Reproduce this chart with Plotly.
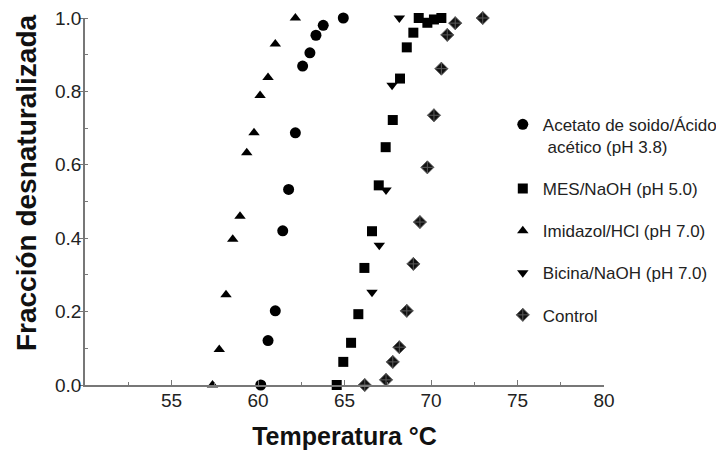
import plotly.graph_objects as go

# ---- data ----
acetato_x = [60.16, 60.58, 61.0, 61.43, 61.77, 62.16, 62.58, 63.0, 63.35, 63.77, 64.93]
acetato_y = [0.0, 0.121, 0.202, 0.42, 0.533, 0.687, 0.869, 0.905, 0.953, 0.98, 1.0]

mes_x = [64.55, 64.93, 65.38, 65.8, 66.15, 66.59, 66.98, 67.38, 67.79, 68.21, 68.6, 68.98, 69.29, 69.79, 70.17, 70.6]
mes_y = [0.0, 0.063, 0.115, 0.193, 0.319, 0.419, 0.544, 0.648, 0.722, 0.835, 0.92, 0.96, 1.0, 0.987, 0.996, 1.0]

imid_x = [57.37, 57.76, 58.15, 58.54, 58.96, 59.35, 59.77, 60.12, 60.58, 61.0, 62.16]
imid_y = [0.0, 0.097, 0.246, 0.397, 0.46, 0.633, 0.687, 0.789, 0.838, 0.929, 1.0]

bic_x = [66.59, 67.01, 67.4, 67.75, 68.17]
bic_y = [0.253, 0.381, 0.531, 0.817, 1.0]

ctrl_x = [66.17, 67.4, 67.79, 68.17, 68.6, 68.98, 69.36, 69.79, 70.17, 70.6, 70.94, 71.4, 72.99]
ctrl_y = [0.0, 0.014, 0.063, 0.103, 0.202, 0.33, 0.444, 0.593, 0.735, 0.862, 0.954, 0.986, 1.0]

names = [
    "Acetato de soido/Ácido<br> acético (pH 3.8)",
    "MES/NaOH (pH 5.0)",
    "Imidazol/HCl (pH 7.0)",
    "Bicina/NaOH (pH 7.0)",
    "Control",
]
x_title = "Temperatura °C"
y_title = "Fracción desnaturalizada"
x_tickvals = [55, 60, 65, 70, 75, 80]
y_tickvals = [0.0, 0.2, 0.4, 0.6, 0.8, 1.0]

series = [
    (acetato_x, acetato_y, "circle", 11),
    (mes_x, mes_y, "square", 10),
    (imid_x, imid_y, "triangle-up", 10),
    (bic_x, bic_y, "triangle-down", 10),
    (ctrl_x, ctrl_y, "diamond-cross", 10),
]

fig = go.Figure()
for i, ((xs, ys, sym, sz), nm) in enumerate(zip(series, names)):
    if sym == "diamond-cross":
        marker = dict(symbol=sym, size=sz, color="#111111", line=dict(color="#5a5a5a", width=1))
    else:
        marker = dict(symbol=sym, size=sz, color="#000000", line=dict(width=0))
    fig.add_trace(go.Scatter(
        x=xs, y=ys, mode="markers", name=nm, marker=marker,
        legendgroup=f"g{i}", cliponaxis=False,
    ))

FAM = "Liberation Sans, Arial, sans-serif"
axis_font = dict(family=FAM, size=19, color="#222222")

# the page body adds an 8px offset, so the layout is shifted 8px up/left;
# the figure is a bit wider than the window so the legend never pushes the margin
fig.update_layout(
    width=744, height=442,
    margin=dict(l=77, r=148, t=10, b=65),
    paper_bgcolor="white", plot_bgcolor="white",
    font=dict(family=FAM, color="#222222"),
    legend=dict(
        x=0.805, y=0.758, xanchor="left", yanchor="top",
        font=dict(size=17, color="#222222"),
        tracegroupgap=17, valign="top", bgcolor="rgba(0,0,0,0)",
    ),
    xaxis=dict(
        range=[50, 80], tickvals=x_tickvals, ticktext=[str(v) for v in x_tickvals],
        showgrid=False, zeroline=False, showline=True, linecolor="#777777", linewidth=1.5,
        ticks="inside", ticklen=5, tickcolor="#777777", tickfont=axis_font,
        ticklabelstandoff=-3, automargin=False, ticklabeloverflow="allow",
        minor=dict(dtick=2.5, tick0=50, ticks="inside", ticklen=3, tickcolor="#777777", showgrid=False),
        title=dict(text=f"<b>{x_title}</b>", font=dict(family=FAM, size=25, color="#111111"), standoff=19),
    ),
    yaxis=dict(
        range=[0, 1.0], tickvals=y_tickvals, ticktext=[f"{v:.1f}" for v in y_tickvals],
        showgrid=False, zeroline=False, showline=True, linecolor="#777777", linewidth=1.5,
        ticks="outside", ticklen=4, tickcolor="#777777", tickfont=axis_font,
        ticklabelstandoff=-6, automargin=False, ticklabeloverflow="allow",
        minor=dict(dtick=0.1, tick0=0, ticks="inside", ticklen=3, tickcolor="#777777", showgrid=False),
    ),
    annotations=[dict(
        text=f"<b>{y_title}</b>", textangle=-90, showarrow=False,
        xref="paper", yref="paper", x=-0.1137, y=0.553, xanchor="center", yanchor="middle",
        font=dict(family=FAM, size=28, color="#111111"),
    )],
)

fig.write_html("out.html")
